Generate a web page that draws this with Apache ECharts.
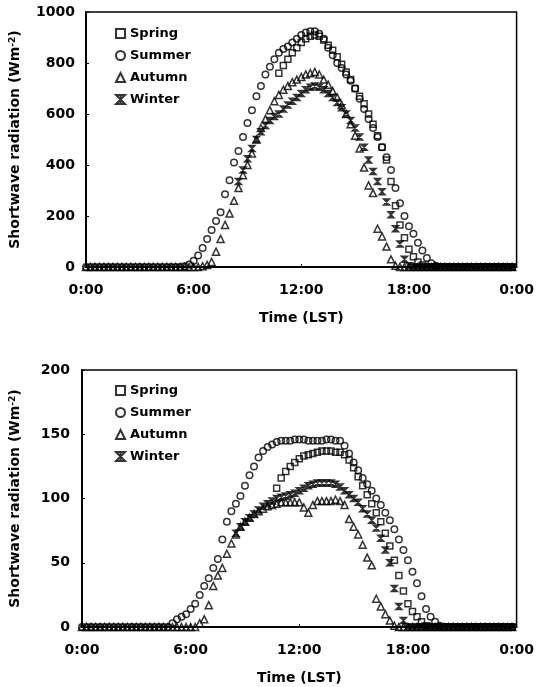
<!DOCTYPE html>
<html>
<head>
<meta charset="utf-8">
<title>Shortwave radiation</title>
<script src="https://cdn.jsdelivr.net/npm/echarts@6/dist/echarts.min.js"></script>
<style>
  html, body { margin: 0; padding: 0; background: #fff; }
  #chart { width: 537px; height: 687px; }
</style>
</head>
<body>
<div id="chart"></div>
<script>
// ------------------------------------------------------------
// 15-minute samples, local standard time (hours)
// ------------------------------------------------------------
var HOURS = [
    0, 0.25, 0.5, 0.75, 1, 1.25, 1.5, 1.75,
    2, 2.25, 2.5, 2.75, 3, 3.25, 3.5, 3.75,
    4, 4.25, 4.5, 4.75, 5, 5.25, 5.5, 5.75,
    6, 6.25, 6.5, 6.75, 7, 7.25, 7.5, 7.75,
    8, 8.25, 8.5, 8.75, 9, 9.25, 9.5, 9.75,
    10, 10.25, 10.5, 10.75, 11, 11.25, 11.5, 11.75,
    12, 12.25, 12.5, 12.75, 13, 13.25, 13.5, 13.75,
    14, 14.25, 14.5, 14.75, 15, 15.25, 15.5, 15.75,
    16, 16.25, 16.5, 16.75, 17, 17.25, 17.5, 17.75,
    18, 18.25, 18.5, 18.75, 19, 19.25, 19.5, 19.75,
    20, 20.25, 20.5, 20.75, 21, 21.25, 21.5, 21.75,
    22, 22.25, 22.5, 22.75, 23, 23.25, 23.5, 23.75
];

var SEASONS = ['Spring', 'Summer', 'Autumn', 'Winter'];
var X_TICK_LABELS = ['0:00', '6:00', '12:00', '18:00', '0:00'];

// upper panel (Wm-2), null = no record
var springTop = [
    null, null, null, null, null, null, null, null,
    null, null, null, null, null, null, null, null,
    null, null, null, null, null, null, null, null,
    null, null, null, null, null, null, null, null,
    null, null, null, null, null, null, null, null,
    null, null, null, 760, 790, 815, 840, 860,
    880, 895, 905, 910, 905, 890, 870, 850,
    825, 795, 765, 735, 700, 670, 640, 600,
    560, 515, 470, 420, 335, 240, 165, 115,
    70, 40, 20, 8, 0, 0, 0, 0,
    0, 0, 0, 0, 0, 0, 0, 0,
    0, 0, 0, 0, 0, 0, 0, 0
];
var summerTop = [
    0, 0, 0, 0, 0, 0, 0, 0,
    0, 0, 0, 0, 0, 0, 0, 0,
    0, 0, 0, 0, 0, 0, 3, 10,
    25, 45, 75, 110, 145, 180, 215, 285,
    340, 410, 455, 510, 565, 615, 670, 710,
    755, 785, 815, 840, 855, 865, 880, 895,
    910, 920, 925, 925, 915, 895, 860, 830,
    800, 780, 755, 730, 700, 660, 620, 580,
    545, 510, 470, 430, 380, 310, 250, 200,
    160, 130, 95, 65, 35, 15, 5, 0,
    0, 0, 0, 0, 0, 0, 0, 0,
    0, 0, 0, 0, 0, 0, 0, 0
];
var autumnTop = [
    0, 0, 0, 0, 0, 0, 0, 0,
    0, 0, 0, 0, 0, 0, 0, 0,
    0, 0, 0, 0, 0, 0, 0, 0,
    0, 0, 3, 8, 20, 60, 110, 165,
    210, 260, 310, 360, 400, 445, 500, 545,
    580, 615, 650, 675, 695, 710, 725, 735,
    745, 755, 760, 765, 755, 735, 715, 690,
    665, 635, 600, 560, 515, 465, 390, 320,
    290, 150, 120, 80, 30, 5, 0, 0,
    0, 0, 0, 0, 0, 0, 0, 0,
    0, 0, 0, 0, 0, 0, 0, 0,
    0, 0, 0, 0, 0, 0, 0, 0
];
var winterTop = [
    null, null, null, null, null, null, null, null,
    null, null, null, null, null, null, null, null,
    null, null, null, null, null, null, null, null,
    null, null, null, null, null, null, null, null,
    null, null, 335, 380, 425, 465, 500, 530,
    555, 575, 590, 600, 620, 635, 650, 665,
    680, 695, 705, 710, 705, 695, 680, 665,
    645, 625, 600, 575, 545, 510, 470, 420,
    375, 335, 295, 255, 205, 150, 90, 30,
    5, 0, 0, 0, 0, 0, 0, 0,
    0, 0, 0, 0, 0, 0, 0, 0,
    0, 0, 0, 0, 0, 0, 0, 0
];

// lower panel (Wm-2)
var springBottom = [
    null, null, null, null, null, null, null, null,
    null, null, null, null, null, null, null, null,
    null, null, null, null, null, null, null, null,
    null, null, null, null, null, null, null, null,
    null, null, null, null, null, null, null, null,
    null, null, null, 108, 116, 121, 125, 128,
    131, 133, 134, 135, 136, 137, 137, 137,
    136, 136, 134, 130, 124, 117, 110, 103,
    96, 89, 82, 73, 63, 52, 40, 28,
    18, 12, 8, 4, 1, 0, 0, 0,
    0, 0, 0, 0, 0, 0, 0, 0,
    0, 0, 0, 0, 0, 0, 0, 0
];
var summerBottom = [
    0, 0, 0, 0, 0, 0, 0, 0,
    0, 0, 0, 0, 0, 0, 0, 0,
    0, 0, 0, 0, 3, 6, 8, 10,
    14, 18, 25, 32, 38, 46, 53, 68,
    82, 90, 96, 102, 110, 118, 125, 132,
    137, 140, 142, 144, 145, 145, 145, 146,
    146, 146, 145, 145, 145, 145, 146, 146,
    145, 145, 141, 135, 128, 122, 116, 111,
    106, 100, 95, 89, 83, 76, 68, 60,
    52, 43, 34, 24, 14, 8, 4, 1,
    0, 0, 0, 0, 0, 0, 0, 0,
    0, 0, 0, 0, 0, 0, 0, 0
];
var autumnBottom = [
    0, 0, 0, 0, 0, 0, 0, 0,
    0, 0, 0, 0, 0, 0, 0, 0,
    0, 0, 0, 0, 0, 0, 0, 0,
    0, 0, 3, 6, 17, 32, 40, 46,
    57, 65, 72, 78, 82, 85, 88, 90,
    92, 94, 95, 96, 97, 97, 97, 97,
    97, 93, 89, 95, 98, 98, 98, 98,
    99, 98, 95, 84, 78, 72, 64, 54,
    48, 22, 16, 10, 5, 1, 0, 0,
    0, 0, 0, 0, 0, 0, 0, 0,
    0, 0, 0, 0, 0, 0, 0, 0,
    0, 0, 0, 0, 0, 0, 0, 0
];
var winterBottom = [
    null, null, null, null, null, null, null, null,
    null, null, null, null, null, null, null, null,
    null, null, null, null, null, null, null, null,
    null, null, null, null, null, null, null, null,
    null, null, 73, 78, 82, 85, 88, 91,
    94, 96, 98, 100, 101, 102, 103, 104,
    106, 108, 110, 111, 112, 112, 112, 112,
    111, 109, 106, 103, 100, 97, 92, 88,
    83, 77, 69, 60, 50, 30, 16, 5,
    0, 0, 0, 0, 0, 0, 0, 0,
    0, 0, 0, 0, 0, 0, 0, 0,
    0, 0, 0, 0, 0, 0, 0, 0
];

var TOP_SERIES = [springTop, summerTop, autumnTop, winterTop];
var BOTTOM_SERIES = [springBottom, summerBottom, autumnBottom, winterBottom];

// hollow markers: square, circle, triangle, hourglass cross
var SYMBOLS = ['rect', 'circle', 'triangle', 'path://M0,0L10,0L0,10L10,10ZM5,0L5,10'];
var SYMBOL_SIZES = [6, 6.5, 7, 6];

var FONT = 'DejaVu Sans';

function toPairs(values) {
    var out = [];
    for (var i = 0; i < values.length; i++) {
        if (values[i] !== null) out.push([HOURS[i], values[i]]);
    }
    return out;
}

function makeSeries(list, gridIndex) {
    return list.map(function(values, k) {
        return {
            name: SEASONS[k],
            type: 'scatter',
            xAxisIndex: gridIndex,
            yAxisIndex: gridIndex,
            symbol: SYMBOLS[k],
            symbolSize: SYMBOL_SIZES[k],
            itemStyle: {
                color: 'rgba(0,0,0,0)',
                borderColor: '#000',
                borderWidth: 1.5
            },
            emphasis: { disabled: true },
            silent: true,
            data: toPairs(values)
        };
    });
}

function xAxis(gridIndex) {
    return {
        type: 'value',
        gridIndex: gridIndex,
        min: 0,
        max: 24,
        interval: 6,
        name: 'Time (LST)',
        nameLocation: 'middle',
        nameGap: 44,
        nameTextStyle: { color: '#000', fontFamily: FONT, fontWeight: 'bold', fontSize: 14 },
        axisLine: { show: true, lineStyle: { color: '#000', width: 2 } },
        axisTick: { show: true, inside: true, length: 3, lineStyle: { color: '#000' } },
        axisLabel: {
            color: '#000', fontFamily: FONT, fontWeight: 'bold', fontSize: 14, margin: 16,
            formatter: function(v) { return X_TICK_LABELS[v / 6]; }
        },
        splitLine: { show: false }
    };
}

function yAxis(gridIndex, max, interval, gap, margin) {
    return {
        type: 'value',
        gridIndex: gridIndex,
        min: 0,
        max: max,
        interval: interval,
        name: 'Shortwave radiation (Wm{sup|-2})',
        nameLocation: 'middle',
        nameRotate: 90,
        nameGap: gap,
        nameTextStyle: {
            color: '#000', fontFamily: FONT, fontWeight: 'bold', fontSize: 14,
            rich: {
                sup: { color: '#000', fontFamily: FONT, fontWeight: 'bold', fontSize: 9, verticalAlign: 'top', lineHeight: 14 }
            }
        },
        axisLine: { show: true, lineStyle: { color: '#000', width: 2 } },
        axisTick: { show: true, inside: true, length: 3, lineStyle: { color: '#000' } },
        axisLabel: {
            color: '#000', fontFamily: FONT, fontWeight: 'bold', fontSize: 14, margin: margin,
            formatter: function(v) { return String(v); }
        },
        splitLine: { show: false }
    };
}

function legend(top) {
    return {
        data: SEASONS,
        orient: 'vertical',
        left: 110,
        top: top,
        itemWidth: 9,
        itemHeight: 9,
        itemGap: 9,
        selectedMode: false,
        textStyle: { color: '#000', fontFamily: FONT, fontWeight: 'bold', fontSize: 13 }
    };
}

var chart = echarts.init(document.getElementById('chart'), null, { renderer: 'canvas' });

chart.setOption({
    backgroundColor: '#fff',
    animation: false,
    legend: [legend(22), legend(379)],
    grid: [
        { left: 84, top: 12, width: 439, height: 255, show: true, borderColor: '#000', borderWidth: 1.5, backgroundColor: 'transparent' },
        { left: 80, top: 370, width: 443, height: 257, show: true, borderColor: '#000', borderWidth: 1.5, backgroundColor: 'transparent' }
    ],
    xAxis: [xAxis(0), xAxis(1)],
    yAxis: [yAxis(0, 1000, 200, 64, 11), yAxis(1, 200, 50, 60, 12)],
    series: makeSeries(TOP_SERIES, 0).concat(makeSeries(BOTTOM_SERIES, 1))
});
</script>
</body>
</html>
